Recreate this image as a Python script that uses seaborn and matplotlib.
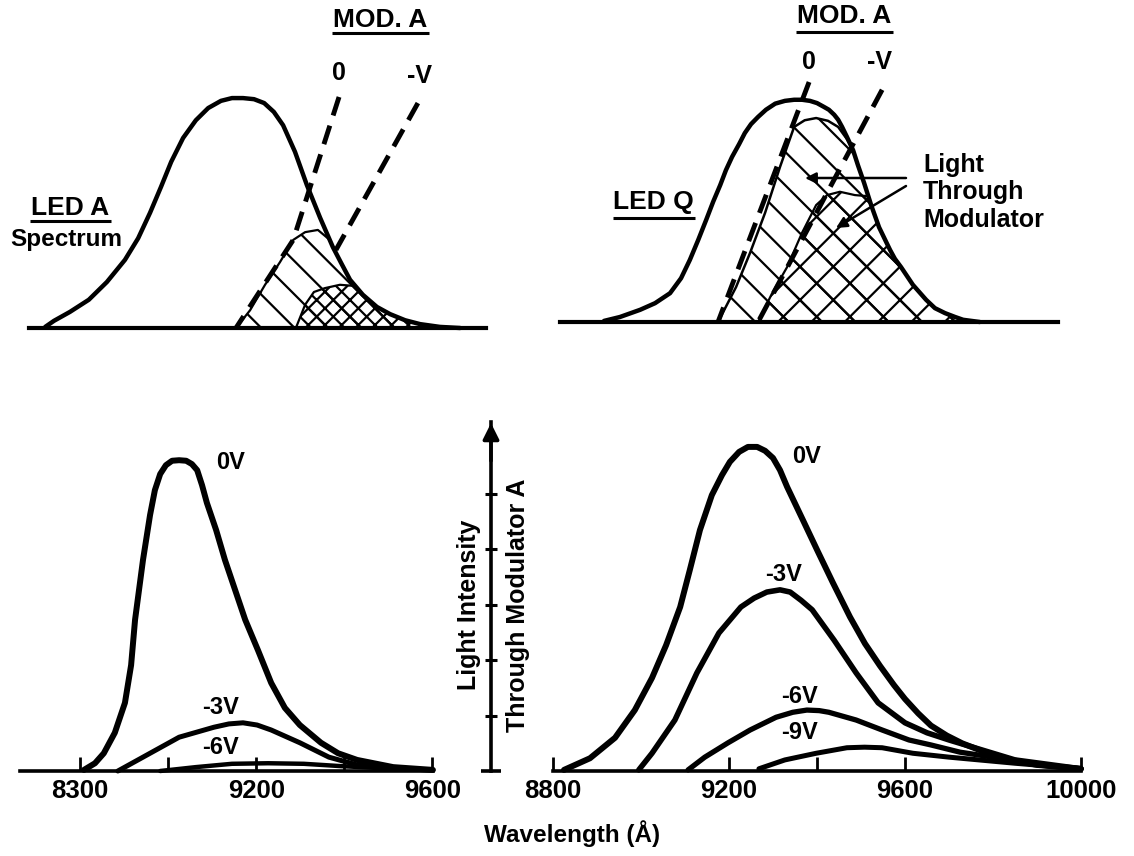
import matplotlib
matplotlib.use("Agg")
import matplotlib.pyplot as plt
import seaborn as sns

# ---------------- data ----------------
# Top-left: LED A spectrum (wavelength-like units, relative intensity)
ledA_wl = [8721, 8741, 8777, 8820, 8861, 8902, 8932, 8959, 8984, 9007, 9034, 9063, 9091,
           9120, 9145, 9170, 9195, 9218, 9240, 9261, 9288, 9315, 9345, 9374, 9393, 9413,
           9442, 9474, 9504, 9538, 9572, 9617, 9663]
ledA_int = [0.02, 0.13, 0.29, 0.51, 0.83, 1.23, 1.62, 2.08, 2.55, 3.00, 3.43, 3.75, 3.97,
            4.10, 4.15, 4.15, 4.13, 4.06, 3.90, 3.66, 3.18, 2.58, 1.99, 1.46, 1.17, 0.87,
            0.60, 0.38, 0.25, 0.14, 0.07, 0.02, 0.0]
modA0_wl_L = [9388, 9284, 9154]
modA0_int_L = [4.17, 1.59, 0.0]
modAV_wl_L = [9567, 9381]
modAV_int_L = [4.06, 1.41]
thruA0_wl = [9154, 9186, 9220, 9254, 9284, 9311, 9340, 9367, 9374, 9393, 9413, 9442, 9474,
             9504, 9538, 9572, 9617]
thruA0_int = [0.0, 0.32, 0.78, 1.19, 1.59, 1.73, 1.77, 1.59, 1.46, 1.17, 0.87, 0.60, 0.38,
              0.25, 0.14, 0.07, 0.02]
thruAV_wl = [9290, 9311, 9331, 9356, 9390, 9422, 9442, 9474, 9504, 9538, 9572, 9617]
thruAV_int = [0.0, 0.42, 0.65, 0.72, 0.78, 0.76, 0.60, 0.38, 0.25, 0.14, 0.07, 0.02]

# Top-right: LED Q spectrum
ledQ_wl = [8916, 8952, 8998, 9032, 9066, 9091, 9111, 9130, 9148, 9164, 9180, 9193, 9207,
           9223, 9236, 9250, 9266, 9284, 9305, 9327, 9348, 9366, 9384, 9400, 9416, 9427,
           9439, 9448, 9457, 9468, 9482, 9493, 9507, 9523, 9541, 9555, 9566, 9577, 9591,
           9618, 9648, 9668, 9691, 9714, 9732, 9770]
ledQ_int = [0.02, 0.09, 0.22, 0.34, 0.52, 0.79, 1.12, 1.48, 1.84, 2.17, 2.47, 2.74, 2.98,
            3.21, 3.41, 3.57, 3.70, 3.83, 3.94, 3.99, 4.01, 4.01, 3.99, 3.95, 3.88, 3.83,
            3.74, 3.65, 3.52, 3.34, 3.10, 2.83, 2.51, 2.11, 1.71, 1.48, 1.30, 1.14, 0.99,
            0.67, 0.40, 0.25, 0.16, 0.09, 0.04, 0.0]
modQ0_wl = [9382, 9175]
modQ0_int = [4.33, 0.0]
modQV_wl = [9548, 9266]
modQV_int = [4.19, 0.0]
thruQ0_wl = [9175, 9216, 9248, 9282, 9316, 9348, 9372, 9398, 9425, 9448, 9468, 9482, 9493,
             9507, 9523, 9541, 9555, 9566, 9577, 9591, 9618, 9648, 9668, 9691, 9714, 9732, 9770]
thruQ0_int = [0.0, 0.63, 1.25, 1.97, 2.80, 3.52, 3.64, 3.68, 3.63, 3.52, 3.30, 3.10, 2.83,
              2.51, 2.11, 1.71, 1.48, 1.30, 1.14, 0.99, 0.67, 0.40, 0.25, 0.16, 0.09, 0.04, 0.0]
thruQV_wl = [9266, 9298, 9332, 9366, 9398, 9423, 9452, 9486, 9516, 9530, 9541, 9555, 9566,
             9577, 9591, 9618, 9648, 9668, 9691, 9714, 9732, 9770]
thruQV_int = [0.0, 0.52, 0.99, 1.61, 2.11, 2.29, 2.35, 2.29, 2.27, 1.95, 1.71, 1.48, 1.30,
              1.14, 0.99, 0.67, 0.40, 0.25, 0.16, 0.09, 0.04, 0.0]

# Bottom-left: LED A through modulator A
bl_0v_wl = [8809, 8834, 8854, 8879, 8902, 8916, 8925, 8943, 8959, 8970, 8982, 8995, 9009,
            9025, 9041, 9054, 9066, 9077, 9088, 9109, 9129, 9152, 9175, 9204, 9234, 9265,
            9299, 9347, 9386, 9429, 9511, 9601]
bl_0v_int = [0.02, 0.14, 0.32, 0.69, 1.23, 1.91, 2.73, 3.81, 4.62, 5.07, 5.36, 5.52, 5.60,
             5.61, 5.60, 5.54, 5.43, 5.16, 4.84, 4.35, 3.81, 3.27, 2.73, 2.18, 1.59, 1.14,
             0.83, 0.51, 0.32, 0.20, 0.07, 0.02]
bl_3v_wl = [8886, 8943, 9025, 9104, 9138, 9170, 9202, 9234, 9299, 9365, 9429, 9511, 9601]
bl_3v_int = [0.0, 0.25, 0.61, 0.79, 0.85, 0.87, 0.83, 0.74, 0.51, 0.25, 0.11, 0.04, 0.02]
bl_6v_wl = [8982, 9063, 9145, 9227, 9308, 9388, 9511, 9601]
bl_6v_int = [0.0, 0.07, 0.13, 0.14, 0.13, 0.09, 0.04, 0.02]

# Bottom-right: LED Q through modulator A
br_0v_wl = [8825, 8884, 8941, 8986, 9025, 9057, 9089, 9111, 9134, 9161, 9184, 9202, 9223,
            9243, 9264, 9282, 9300, 9316, 9332, 9368, 9402, 9436, 9475, 9509, 9543, 9575,
            9600, 9630, 9659, 9695, 9730, 9811, 9900, 10000]
br_0v_int = [0.02, 0.23, 0.60, 1.10, 1.68, 2.27, 2.96, 3.63, 4.35, 4.98, 5.34, 5.58, 5.76,
             5.85, 5.85, 5.78, 5.65, 5.43, 5.13, 4.53, 3.96, 3.40, 2.78, 2.30, 1.90, 1.55,
             1.30, 1.04, 0.82, 0.64, 0.50, 0.25, 0.11, 0.04]
br_3v_wl = [8995, 9025, 9077, 9127, 9177, 9227, 9257, 9286, 9316, 9339, 9364, 9389, 9439,
            9489, 9539, 9600, 9650, 9700, 9850, 10000]
br_3v_int = [0.02, 0.32, 0.92, 1.77, 2.49, 2.96, 3.12, 3.23, 3.27, 3.23, 3.08, 2.91, 2.36,
             1.77, 1.23, 0.87, 0.69, 0.56, 0.20, 0.04]
br_6v_wl = [9107, 9145, 9198, 9248, 9307, 9345, 9377, 9405, 9427, 9489, 9548, 9609, 9659,
            9725, 9816, 9907, 10000]
br_6v_int = [0.02, 0.25, 0.51, 0.74, 0.97, 1.06, 1.10, 1.09, 1.06, 0.92, 0.74, 0.56, 0.47,
             0.34, 0.23, 0.11, 0.04]
br_9v_wl = [9268, 9327, 9398, 9468, 9508, 9548, 9618, 9700, 9850, 10000]
br_9v_int = [0.04, 0.20, 0.32, 0.42, 0.43, 0.42, 0.32, 0.25, 0.14, 0.04]

bl_ticks = [8800, 9000, 9200, 9400, 9600]
bl_ticklabels = ["8300", "", "9200", "", "9600"]
br_ticks = [8800, 9200, 9400, 9600, 10000]
br_ticklabels = ["8800", "9200", "", "9600", "10000"]
arrow_ticks = [1, 2, 3, 4, 5]

# curve labels: (text, wavelength, intensity)
bl_labels = [("0V", 9141, 5.56), ("-3V", 9118, 1.14), ("-6V", 9120, 0.42)]
br_labels = [("0V", 9377, 5.67), ("-3V", 9323, 3.54), ("-6V", 9361, 1.34), ("-9V", 9361, 0.69)]

# ---------------- figure ----------------
sns.set_theme(style="white")
plt.rcParams['font.family'] = ['Liberation Sans', 'DejaVu Sans']
plt.rcParams['font.weight'] = 'bold'
plt.rcParams['hatch.linewidth'] = 1.6
plt.rcParams['text.color'] = 'black'
plt.rcParams['xtick.color'] = 'black'
plt.rcParams['ytick.color'] = 'black'

W, H = 1134, 856
fig = plt.figure(figsize=(W / 100, H / 100), dpi=100)
fig.patch.set_facecolor('white')


def px_axes(x0, x1, ytop, ybot):
    return fig.add_axes([x0 / W, 1 - ybot / H, (x1 - x0) / W, (ybot - ytop) / H])


def clean(ax, xlim, ylim, spine_lw):
    ax.set_xlim(*xlim)
    ax.set_ylim(*ylim)
    ax.patch.set_alpha(0)
    for s in ['top', 'right', 'left']:
        ax.spines[s].set_visible(False)
    ax.spines['bottom'].set_linewidth(spine_lw)
    ax.spines['bottom'].set_color('black')
    ax.set_yticks([])
    ax.set_xlabel('')
    ax.set_ylabel('')


def curve(ax, x, y, lw, **kw):
    sns.lineplot(x=x, y=y, ax=ax, sort=False, estimator=None, color='black',
                 lw=lw, solid_capstyle='round', solid_joinstyle='round', **kw)
    for ln in ax.lines:
        ln.set_clip_on(False)


DASH = (0, (4, 2.2))

# ---- top-left
axTL = px_axes(29, 486, 5, 328)
axTL.fill_between(thruA0_wl, 0, thruA0_int, facecolor='none', edgecolor='black',
                  hatch='\\', linewidth=0)
axTL.fill_between(thruAV_wl, 0, thruAV_int, facecolor='none', edgecolor='black',
                  hatch='xx', linewidth=0)
curve(axTL, thruA0_wl, thruA0_int, 1.6)
curve(axTL, thruAV_wl, thruAV_int, 1.6)
curve(axTL, ledA_wl, ledA_int, 3.2)
axTL.plot(modA0_wl_L, modA0_int_L, color='black', lw=3.5, ls=DASH)
axTL.plot(modAV_wl_L, modAV_int_L, color='black', lw=3.5, ls=DASH)
clean(axTL, (8684.2, 9721.6), (0, 5.83), 3.0)
axTL.set_xticks([])

# ---- top-right
axTR = px_axes(560, 1058, 0, 322)
axTR.fill_between(thruQ0_wl, 0, thruQ0_int, facecolor='none', edgecolor='black',
                  hatch='\\', linewidth=0)
axTR.fill_between(thruQV_wl, 0, thruQV_int, facecolor='none', edgecolor='black',
                  hatch='x', linewidth=0)
curve(axTR, thruQ0_wl, thruQ0_int, 1.8)
curve(axTR, thruQV_wl, thruQV_int, 1.6)
curve(axTR, ledQ_wl, ledQ_int, 3.2)
axTR.plot(modQ0_wl, modQ0_int, color='black', lw=3.5, ls=DASH)
axTR.plot(modQV_wl, modQV_int, color='black', lw=3.5, ls=DASH)
clean(axTR, (8815.9, 9947.7), (0, 5.81), 3.0)
axTR.set_xticks([])

# ---- bottom-left
YL = (0, 6.3)
axBL = px_axes(20, 433, 771 - 6.3 * 55.4, 771)
curve(axBL, bl_0v_wl, bl_0v_int, 4.3)
curve(axBL, bl_3v_wl, bl_3v_int, 3.6)
curve(axBL, bl_6v_wl, bl_6v_int, 3.2)
clean(axBL, (8663.8, 9601.3), YL, 2.6)
axBL.set_xticks(bl_ticks)
axBL.set_xticklabels(bl_ticklabels)
for t, x, y in bl_labels:
    axBL.text(x, y, t, ha='center', va='center', fontsize=17, fontweight='bold',
              color='black')

# ---- bottom-right
axBR = px_axes(553, 1081, 771 - 6.3 * 55.4, 771)
curve(axBR, br_0v_wl, br_0v_int, 4.3)
curve(axBR, br_3v_wl, br_3v_int, 4.0)
curve(axBR, br_6v_wl, br_6v_int, 3.8)
curve(axBR, br_9v_wl, br_9v_int, 3.6)
clean(axBR, (8800, 10000), YL, 2.6)
axBR.set_xticks(br_ticks)
axBR.set_xticklabels(br_ticklabels)
for t, x, y in br_labels:
    axBR.text(x, y, t, ha='center', va='center', fontsize=17, fontweight='bold',
              color='black')

for ax in (axBL, axBR):
    ax.tick_params(axis='x', direction='in', length=10, width=2, pad=6,
                   labelsize=18.5, colors='black', bottom=True)

# ---- central intensity arrow (axis)
axA = px_axes(491, 492, 771 - 6.3 * 55.4, 771)
axA.set_xlim(0, 1)
axA.set_ylim(*YL)
axA.patch.set_alpha(0)
for s in ['top', 'right', 'bottom']:
    axA.spines[s].set_visible(False)
axA.spines['left'].set_linewidth(2.6)
axA.spines['left'].set_color('black')
axA.set_xticks([])
axA.set_yticks([0])
axA.set_yticklabels([])
axA.set_yticks(arrow_ticks, minor=True)
axA.tick_params(axis='y', which='major', direction='inout', length=15, width=2.6,
                left=True, colors='black')
axA.tick_params(axis='y', which='minor', direction='inout', length=8, width=2.2,
                left=True, colors='black')
axA.annotate('', xy=(0, 6.28), xytext=(0, 5.6), xycoords='data',
             arrowprops=dict(arrowstyle='-|>', lw=2.6, color='black',
                             mutation_scale=24, shrinkA=0, shrinkB=0),
             annotation_clip=False)

# ---------------- overlay text (pixel coordinates) ----------------
ov = fig.add_axes([0, 0, 1, 1])
ov.set_xlim(0, W)
ov.set_ylim(H, 0)
ov.axis('off')
ov.patch.set_alpha(0)


def txt(x, y, s, size=18, **kw):
    ov.text(x, y, s, ha=kw.pop('ha', 'center'), va=kw.pop('va', 'center'),
            fontsize=size, fontweight='bold', color='black', **kw)


def uline(x0, x1, y, lw=2.2):
    ov.plot([x0, x1], [y, y], color='black', lw=lw, solid_capstyle='butt')


# top-left
txt(380, 20, "MOD. A", 19)
uline(332, 429, 33)
txt(339, 73, "0", 18)
txt(420, 76, "-V", 18)
txt(70, 208, "LED A", 19)
uline(30, 111, 221)
txt(66, 239, "Spectrum", 17.5)

# top-right
txt(844, 16, "MOD. A", 19)
uline(796, 893, 32)
txt(809, 62, "0", 18)
txt(879, 62, "-V", 18)
txt(653, 202, "LED Q", 19)
uline(613, 695, 218)
txt(923, 165, "Light", 18, ha='left')
txt(923, 192, "Through", 18, ha='left')
txt(923, 220, "Modulator", 18, ha='left')
ov.annotate('', xy=(805, 178), xytext=(906, 178),
            arrowprops=dict(arrowstyle='-|>', lw=1.8, color='black', mutation_scale=16,
                            shrinkA=0, shrinkB=0))
ov.annotate('', xy=(836, 228), xytext=(906, 186),
            arrowprops=dict(arrowstyle='-|>', lw=1.8, color='black', mutation_scale=16,
                            shrinkA=0, shrinkB=0))

# central axis labels
txt(469, 605, "Light Intensity", 18, rotation=90)
txt(518, 605, "Through Modulator A", 18, rotation=90)

# x label
txt(572, 834, "Wavelength (Å)", 17.5)

fig.savefig("out.png", dpi=100, facecolor='white')
